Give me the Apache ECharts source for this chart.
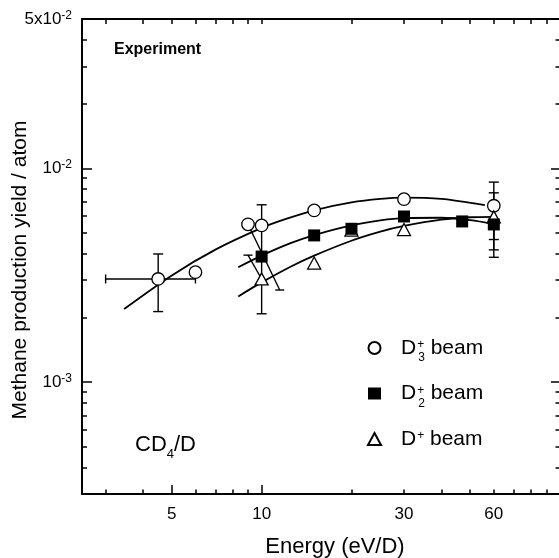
<!DOCTYPE html>
<html>
<head>
<meta charset="utf-8">
<script src="https://cdn.jsdelivr.net/npm/echarts@6/dist/echarts.min.js"></script>
<style>
html,body{margin:0;padding:0;background:#fff;}
#chart{width:559px;height:558px;}
</style>
</head>
<body>
<div id="chart"></div>
<script>
// ---------- data ----------
const d3Energy = [4.5, 6, 9, 10, 15, 30, 60];
const d3Yield  = [3.04e-3, 3.27e-3, 5.48e-3, 5.41e-3, 6.36e-3, 7.18e-3, 6.69e-3];
const d2Energy = [10, 15, 20, 30, 47, 60];
const d2Yield  = [3.87e-3, 4.86e-3, 5.22e-3, 5.96e-3, 5.65e-3, 5.47e-3];
const d1Energy = [10, 15, 20, 30, 60];
const d1Yield  = [3.04e-3, 3.61e-3, 5.15e-3, 5.18e-3, 5.93e-3];

// fitted curves
const fitD3Energy = [3.46, 5, 7, 10, 12, 15, 20, 25, 30, 40, 56];
const fitD3Yield  = [2.2e-3, 3.16e-3, 4.17e-3, 5.27e-3, 5.79e-3, 6.37e-3, 6.93e-3, 7.2e-3, 7.3e-3, 7.2e-3, 6.74e-3];
const fitD2Energy = [8.35, 10, 12.5, 15, 20, 25, 30, 40, 50, 60];
const fitD2Yield  = [3.45e-3, 3.91e-3, 4.47e-3, 4.88e-3, 5.42e-3, 5.72e-3, 5.86e-3, 5.88e-3, 5.73e-3, 5.5e-3];
const fitD1Energy = [8.35, 10, 12.5, 15, 20, 25, 30, 40, 50, 60];
const fitD1Yield  = [2.52e-3, 2.93e-3, 3.47e-3, 3.91e-3, 4.59e-3, 5.06e-3, 5.38e-3, 5.76e-3, 5.91e-3, 5.94e-3];

// vertical error bars: energy, low, high
const vErrEnergy = [4.5, 10, 60, 60, 60];
const vErrLow    = [2.14e-3, 2.09e-3, 4.65e-3, 4.16e-3, 3.84e-3];
const vErrHigh   = [3.98e-3, 6.76e-3, 8.63e-3, 7.69e-3, 6.95e-3];
// horizontal error bar: yield, low energy, high energy
const hErrYield = [3.04e-3];
const hErrLow   = [3.0];
const hErrHigh  = [6.0];
// slanted bars: start energy, start yield, end energy, end yield, cap at start, cap at end
const slantE1 = [9, 9];
const slantY1 = [5.48e-3, 3.93e-3];
const slantE2 = [11.5, 10];
const slantY2 = [2.70e-3, 3.04e-3];
const slantCapStart = [0, 1];
const slantCapEnd   = [1, 0];

// axes
const xMin = 2.5, xMax = 100;
const yMin = 3e-4, yMax = 5e-2;
const xTickLabels = [5, 10, 30, 60];
const xMajorTicks = [5, 10];
const xMinorTicks = [3, 4, 6, 7, 8, 9, 20, 30, 40, 50, 60, 70, 80, 90];
const xTopTicks = [3, 4, 5, 6, 7, 8, 9, 10, 20, 30, 40, 50, 60, 70, 80, 90];
const yTickLabels = [1e-3, 1e-2, 5e-2];
const yMajorTicks = [1e-3, 1e-2];
const yMinorTicks = [4e-4, 5e-4, 6e-4, 7e-4, 8e-4, 9e-4, 2e-3, 3e-3, 4e-3, 5e-3, 6e-3, 7e-3, 8e-3, 9e-3, 2e-2, 3e-2, 4e-2];

// ---------- chart ----------
const FONT = "'Liberation Sans', Arial, sans-serif";
const chart = echarts.init(document.getElementById('chart'), null, {renderer: 'canvas'});

function zip(a, b) { return a.map((v, i) => [v, b[i]]); }

const lineCol = '#000';
function baseX(extra) {
  return Object.assign({
    type: 'log', logBase: 10, min: xMin, max: xMax, gridIndex: 0,
    splitLine: {show: false}, minorTick: {show: false},
    axisLine: {show: false}, axisLabel: {show: false},
    axisTick: {show: false}
  }, extra);
}
function baseY(extra) {
  return Object.assign({
    type: 'log', logBase: 10, min: yMin, max: yMax, gridIndex: 0,
    splitLine: {show: false}, minorTick: {show: false},
    axisLine: {show: false}, axisLabel: {show: false},
    axisTick: {show: false}
  }, extra);
}

const errStyle = {stroke: '#000', lineWidth: 1.4};

function renderV(params, api) {
  const x = api.value(0), lo = api.value(1), hi = api.value(2);
  const p1 = api.coord([x, lo]), p2 = api.coord([x, hi]);
  const w = 5;
  return {type: 'group', children: [
    {type: 'line', shape: {x1: p1[0], y1: p1[1], x2: p2[0], y2: p2[1]}, style: errStyle},
    {type: 'line', shape: {x1: p1[0] - w, y1: p1[1], x2: p1[0] + w, y2: p1[1]}, style: errStyle},
    {type: 'line', shape: {x1: p2[0] - w, y1: p2[1], x2: p2[0] + w, y2: p2[1]}, style: errStyle}
  ]};
}
function renderH(params, api) {
  const y = api.value(0), lo = api.value(1), hi = api.value(2);
  const p1 = api.coord([lo, y]), p2 = api.coord([hi, y]);
  const h = 4.5;
  return {type: 'group', children: [
    {type: 'line', shape: {x1: p1[0], y1: p1[1], x2: p2[0], y2: p2[1]}, style: errStyle},
    {type: 'line', shape: {x1: p1[0], y1: p1[1] - h, x2: p1[0], y2: p1[1] + h}, style: errStyle},
    {type: 'line', shape: {x1: p2[0], y1: p2[1] - h, x2: p2[0], y2: p2[1] + h}, style: errStyle}
  ]};
}
function renderS(params, api) {
  const p1 = api.coord([api.value(0), api.value(1)]);
  const p2 = api.coord([api.value(2), api.value(3)]);
  const w = 4.5;
  const ch = [{type: 'line', shape: {x1: p1[0], y1: p1[1], x2: p2[0], y2: p2[1]}, style: errStyle}];
  if (api.value(4)) ch.push({type: 'line', shape: {x1: p1[0] - w, y1: p1[1], x2: p1[0] + w, y2: p1[1]}, style: errStyle});
  if (api.value(5)) ch.push({type: 'line', shape: {x1: p2[0] - w, y1: p2[1], x2: p2[0] + w, y2: p2[1]}, style: errStyle});
  return {type: 'group', children: ch};
}

const legendNames = {
  D3: '{m0|D}{sup|+}{sub|3}{m| beam}',
  D2: '{m0|D}{sup|+}{sub|2}{m| beam}',
  D1: '{m0|D}{sup1|+}{m| beam}'
};

const curveStyle = {color: '#000', width: 1.8};

const option = {
  backgroundColor: '#fff',
  animation: false,
  grid: {left: 82, top: 19, width: 478, height: 475, containLabel: false, outerBoundsMode: 'none'},
  xAxis: [
    baseX({
      position: 'bottom',
      name: 'Energy (eV/D)', nameLocation: 'middle', nameGap: 42, nameMoveOverlap: false,
      nameTextStyle: {fontFamily: FONT, fontSize: 22, color: '#000', padding: [0, 0, 0, 28]},
      axisLine: {show: true, lineStyle: {color: lineCol, width: 2}},
      axisTick: {show: true, inside: true, length: 9, customValues: xMajorTicks, lineStyle: {color: lineCol, width: 1.5}},
      axisLabel: {show: true, customValues: xTickLabels, margin: 12, fontFamily: FONT, fontSize: 17, color: '#000',
        showMinLabel: true, showMaxLabel: true, formatter: v => String(v)}
    }),
    baseX({position: 'bottom',
      axisTick: {show: true, inside: true, length: 4.5, customValues: xMinorTicks, lineStyle: {color: lineCol, width: 1.5}}}),
    baseX({position: 'top',
      axisLine: {show: true, onZero: false, lineStyle: {color: lineCol, width: 2}},
      axisTick: {show: true, inside: true, length: 5, customValues: xTopTicks, lineStyle: {color: lineCol, width: 1.5}}})
  ],
  yAxis: [
    baseY({
      position: 'left',
      name: 'Methane production yield / atom', nameLocation: 'middle', nameGap: 51, nameMoveOverlap: false,
      nameTextStyle: {fontFamily: FONT, fontSize: 21, color: '#000', padding: [0, 27, 0, 0]},
      axisLine: {show: true, lineStyle: {color: lineCol, width: 2}},
      axisTick: {show: true, inside: true, length: 10, customValues: yMajorTicks, lineStyle: {color: lineCol, width: 1.5}},
      axisLabel: {show: true, customValues: yTickLabels, margin: 10, showMinLabel: true, showMaxLabel: true,
        formatter: function (v) {
          const e = Math.round(Math.log10(v));
          if (Math.abs(v - Math.pow(10, e)) / v < 1e-6) return '{m|10}{s|' + e + '}';
          const mant = Math.round(v / Math.pow(10, Math.floor(Math.log10(v))));
          return '{m|' + mant + 'x10}{s|' + Math.floor(Math.log10(v)) + '}';
        },
        rich: {
          m: {fontFamily: FONT, fontSize: 17, color: '#000', lineHeight: 19},
          s: {fontFamily: FONT, fontSize: 12, color: '#000', lineHeight: 12, verticalAlign: 'top'}
        }
      }
    }),
    baseY({position: 'left',
      axisTick: {show: true, inside: true, length: 5, customValues: yMinorTicks, lineStyle: {color: lineCol, width: 1.5}}}),
    baseY({position: 'right',
      axisLine: {show: true, onZero: false, lineStyle: {color: lineCol, width: 2}},
      axisTick: {show: true, inside: true, length: 9, customValues: yMajorTicks, lineStyle: {color: lineCol, width: 1.5}}}),
    baseY({position: 'right',
      axisTick: {show: true, inside: true, length: 4.5, customValues: yMinorTicks, lineStyle: {color: lineCol, width: 1.5}}})
  ],
  legend: {
    orient: 'vertical', left: 362, top: 327, itemWidth: 13, itemHeight: 12, itemGap: 13.5,
    selectedMode: false, symbolKeepAspect: true,
    data: [
      {name: 'D3', icon: 'circle'},
      {name: 'D2', icon: 'rect'},
      {name: 'D1', icon: 'triangle'}
    ],
    formatter: name => legendNames[name],
    textStyle: {
      rich: {
        m0: {fontFamily: FONT, fontSize: 21, color: '#000', lineHeight: 32, padding: [0, 0, 0, 15]},
        m: {fontFamily: FONT, fontSize: 21, color: '#000', lineHeight: 32},
        sup: {fontFamily: FONT, fontSize: 12, color: '#000', lineHeight: 12, verticalAlign: 'top', padding: [7, 0, 0, 1], width: 0},
        sup1: {fontFamily: FONT, fontSize: 12, color: '#000', lineHeight: 12, verticalAlign: 'top', padding: [7, 0, 0, 1]},
        sub: {fontFamily: FONT, fontSize: 12, color: '#000', lineHeight: 12, verticalAlign: 'bottom', padding: [0, 0, 0, 1]}
      }
    }
  },
  graphic: [
    {type: 'text', left: 114, top: 42, style: {text: 'Experiment', font: 'bold 16px ' + FONT, fill: '#000'}},
    {type: 'text', left: 135, top: 434, style: {
      text: '{m|CD}{sub|4}{m|/D}',
      rich: {
        m: {fontFamily: FONT, fontSize: 22, fill: '#000', lineHeight: 32},
        sub: {fontFamily: FONT, fontSize: 13, fill: '#000', lineHeight: 13, verticalAlign: 'bottom'}
      }
    }}
  ],
  series: [
    {type: 'line', name: 'fitD3', data: zip(fitD3Energy, fitD3Yield), smooth: 0.3, showSymbol: false, symbol: 'none',
      lineStyle: curveStyle, z: 1, silent: true},
    {type: 'line', name: 'fitD2', data: zip(fitD2Energy, fitD2Yield), smooth: 0.3, showSymbol: false, symbol: 'none',
      lineStyle: curveStyle, z: 1, silent: true},
    {type: 'line', name: 'fitD1', data: zip(fitD1Energy, fitD1Yield), smooth: 0.3, showSymbol: false, symbol: 'none',
      lineStyle: curveStyle, z: 1, silent: true},
    {type: 'custom', name: 'vErr', renderItem: renderV, z: 1, silent: true,
      data: vErrEnergy.map((e, i) => [e, vErrLow[i], vErrHigh[i]]), encode: {x: 0, y: [1, 2]}},
    {type: 'custom', name: 'hErr', renderItem: renderH, z: 1, silent: true,
      data: hErrYield.map((y, i) => [y, hErrLow[i], hErrHigh[i]]), encode: {y: 0, x: [1, 2]}},
    {type: 'custom', name: 'slant', renderItem: renderS, z: 1, silent: true,
      data: slantE1.map((e, i) => [e, slantY1[i], slantE2[i], slantY2[i], slantCapStart[i], slantCapEnd[i]]),
      encode: {x: [0, 2], y: [1, 3]}},
    {type: 'scatter', name: 'D3', data: zip(d3Energy, d3Yield), symbol: 'circle', symbolSize: 12.5, z: 3,
      itemStyle: {color: '#fff', borderColor: '#000', borderWidth: 1.3, opacity: 1}},
    {type: 'scatter', name: 'D1', data: zip(d1Energy, d1Yield), symbol: 'triangle', symbolSize: [13, 12], z: 3,
      itemStyle: {color: '#fff', borderColor: '#000', borderWidth: 1.3, opacity: 1}},
    {type: 'scatter', name: 'D2', data: zip(d2Energy, d2Yield), symbol: 'rect', symbolSize: 12, z: 4,
      itemStyle: {color: '#000', borderColor: '#000', borderWidth: 0, opacity: 1}}
  ]
};
chart.setOption(option);
</script>
</body>
</html>
